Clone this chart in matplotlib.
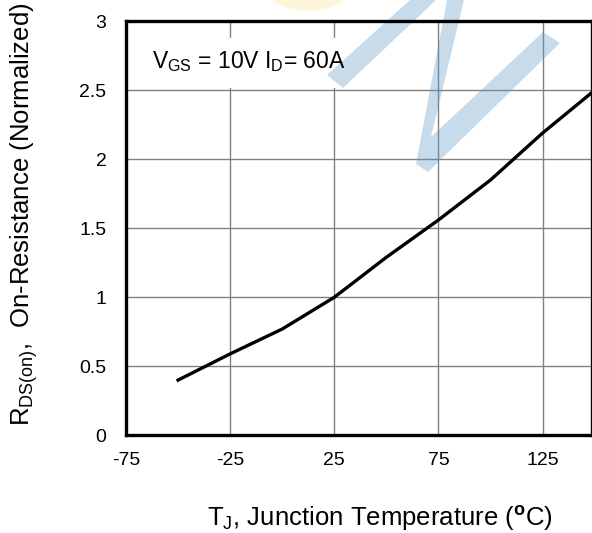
import matplotlib
matplotlib.use("Agg")
import matplotlib.pyplot as plt
from matplotlib.patches import Polygon, Circle, Rectangle

plt.rcParams['font.family'] = ['Liberation Sans', 'DejaVu Sans']
plt.rcParams['mathtext.fontset'] = 'custom'
plt.rcParams['mathtext.rm'] = 'Liberation Sans'
plt.rcParams['mathtext.it'] = 'Liberation Sans:italic'
plt.rcParams['mathtext.bf'] = 'Liberation Sans:bold'

# Data
temperature = [-50, -25, 0, 25, 50, 75, 100, 125, 150]
resistance = [0.40, 0.59, 0.77, 1.00, 1.29, 1.56, 1.85, 2.19, 2.50]
x_ticks = [-75, -25, 25, 75, 125]
x_tick_labels = ['-75', '-25', '25', '75', '125']
y_ticks = [0, 0.5, 1, 1.5, 2, 2.5, 3]
y_tick_labels = ['0', '0.5', '1', '1.5', '2', '2.5', '3']

W, H = 592, 533
fig = plt.figure(figsize=(W / 100, H / 100), dpi=100)
ax = fig.add_axes([126 / W, 1 - 435.3 / H, (591.5 - 126) / W, (435.3 - 21.3) / H])
ax.set_xlim(-75, 148.5)
ax.set_ylim(0, 3)
ax.set_xticks(x_ticks)
ax.set_xticklabels(x_tick_labels)
ax.set_yticks(y_ticks)
ax.set_yticklabels(y_tick_labels)
ax.tick_params(length=0, labelsize=14, colors='black')
ax.tick_params(axis='y', pad=14)
ax.tick_params(axis='x', pad=12)
ax.grid(True, color='#808080', linewidth=1.0)
ax.set_axisbelow(True)
for s in ax.spines.values():
    s.set_linewidth(2.4)
    s.set_color('black')
    s.set_zorder(5)

# white label box hiding grid
ax.add_patch(Rectangle((-75, 2.52), 118, 0.36, facecolor='white', edgecolor='none', zorder=0.8))

# watermark (figure pixel coords, top-left origin), semi-transparent on top of grid
def px(pts):
    return [(x / W, 1 - y / H) for x, y in pts]

wm_color = '#6298c6'
wm_alpha = 0.35
ax.add_patch(Circle((308 / W, 1 - (-45) / H), 62 / W, transform=fig.transFigure,
                    facecolor='#fde9a6', alpha=0.4, edgecolor='none', zorder=2.6, clip_on=False))
ax.add_patch(Polygon(px([(410, 0), (436, 0), (343, 88), (327, 75)]), closed=True,
                     transform=fig.transFigure, facecolor=wm_color, alpha=wm_alpha,
                     edgecolor='none', zorder=2.6, clip_on=False))
ax.add_patch(Polygon(px([(447, 0), (464, 0), (431, 137), (543, 32), (560, 43), (428, 172), (416, 164)]),
                     closed=True, transform=fig.transFigure, facecolor=wm_color, alpha=wm_alpha,
                     edgecolor='none', zorder=2.6, clip_on=False))

ax.plot(temperature, resistance, color='black', linewidth=2.4, zorder=3)

ax.text(-62.5, 2.71, r'V$_{\rm GS}$ = 10V I$_{\rm D}$= 60A', fontsize=16.5, va='center', ha='left', zorder=4)

fig.text(24 / W, 1 - 214 / H, r'R$_{\rm DS(on)}$,  On-Resistance (Normalized)', rotation=90,
         fontsize=18.5, ha='center', va='center')
fig.text(380 / W, 1 - 526 / H, r'T$_{\rm J}$, Junction Temperature ($^{\mathbf{o}}$C)',
         fontsize=18.5, ha='center', va='baseline')

fig.savefig('out.png', dpi=100)
